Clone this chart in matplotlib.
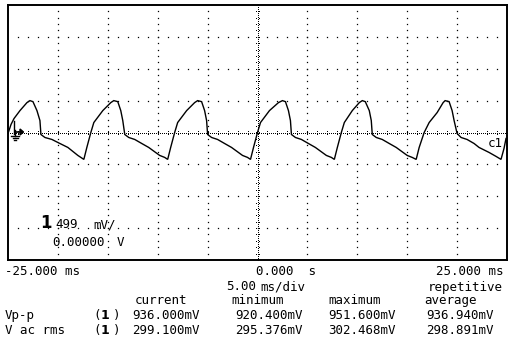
import matplotlib
matplotlib.use("Agg")
import matplotlib.pyplot as plt
import numpy as np

# ---- data (time in ms, voltage in mV) ----
trace_t = [
    -25.0, -24.7, -24.4, -23.8, -23.1, -22.8, -22.5, -22.1, -21.8, -21.7, -21.3, -20.6, -19.8, -19.0, -18.0, -17.7, -17.4,
    -17.1, -16.7, -16.4, -15.5, -14.7, -14.4, -14.0, -13.7, -13.5, -13.3, -12.9, -12.3, -11.6, -10.9, -9.8, -9.3, -9.0,
    -8.7, -8.3, -8.0, -7.1, -6.3, -6.0, -5.6, -5.3, -5.1, -5.0, -4.6, -4.0, -3.3, -2.6, -1.5, -1.0, -0.7,
    -0.4, 0.0, 0.3, 1.2, 2.1, 2.5, 2.8, 3.1, 3.3, 3.4, 3.8, 4.4, 5.1, 5.8, 6.9, 7.4, 7.7,
    8.0, 8.4, 8.7, 9.5, 10.2, 10.5, 10.8, 11.2, 11.4, 11.5, 11.9, 12.5, 13.2, 13.9, 15.0, 15.5, 15.9,
    16.2, 16.7, 17.2, 18.0, 18.6, 18.8, 19.2, 19.5, 19.7, 20.0, 20.4, 21.0, 21.7, 22.2, 23.2, 23.9, 24.4, 24.7, 24.9,
]
trace_mv = [
    -16, 125, 218, 343, 468, 499, 483, 343, 187, -31, -78, -109, -172, -234, -359, -390, -421,
    -234, 0, 156, 343, 468, 499, 483, 343, 187, -31, -78, -109, -172, -234, -359, -390, -421,
    -234, 0, 156, 343, 468, 499, 483, 343, 187, -31, -78, -109, -172, -234, -359, -390, -421,
    -234, 0, 156, 343, 468, 499, 483, 343, 187, -31, -78, -109, -172, -234, -359, -390, -421,
    -234, 0, 156, 343, 468, 499, 483, 343, 187, -31, -78, -109, -172, -234, -359, -390, -421,
    -234, 0, 156, 312, 468, 499, 483, 343, 187, -16, -78, -109, -172, -234, -312, -374, -421, -250, -94,
]

volts_per_div_mv = 499
time_per_div_ms = 5.0
x_range = [-25.000, 25.000]

meas_names = ["Vp-p", "V ac rms"]
meas_current = ["936.000mV", "299.100mV"]
meas_minimum = ["920.400mV", "295.376mV"]
meas_maximum = ["951.600mV", "302.468mV"]
meas_average = ["936.940mV", "298.891mV"]

W, H = 512, 340
fig = plt.figure(figsize=(W / 100, H / 100), dpi=100)
fig.patch.set_facecolor("white")

L, R, T, B = 8, 507, 5, 260
ax = fig.add_axes([L / W, 1 - B / H, (R - L) / W, (B - T) / H])
ax.set_xlim(x_range)
ax.set_ylim(-4 * volts_per_div_mv, 4 * volts_per_div_mv)
ax.set_xticks([])
ax.set_yticks([])
for s in ax.spines.values():
    s.set_linewidth(1.4)
    s.set_color("black")

dot = dict(linestyle="none", marker="s", markersize=0.9, color="black", mew=0)
small = dict(linestyle="none", marker="s", markersize=0.7, color="black", mew=0)
# graticule rows / columns
minor_x = np.arange(-24, 25, 1.0)
minor_y = np.arange(-3.8, 3.81, 0.2) * volts_per_div_mv
for k in [-3, -2, -1, 1, 2, 3]:
    ax.plot(minor_x, np.full_like(minor_x, k * volts_per_div_mv), **dot)
for k in [-4, -3, -2, -1, 1, 2, 3, 4]:
    xv = k * time_per_div_ms
    ax.plot(np.full_like(minor_y, xv), minor_y, **dot)
# centre axes: dense dots + short ticks
dense_x = np.arange(-25, 25.01, 0.2)
ax.plot(dense_x, np.zeros_like(dense_x), **small)
dense_y = np.arange(-4, 4.01, 1 / 16) * volts_per_div_mv
ax.plot(np.zeros_like(dense_y), dense_y, **small)
tick_dy = 1.5 / 32 * volts_per_div_mv
ax.plot(minor_x, np.full_like(minor_x, tick_dy), **small)
ax.plot(minor_x, np.full_like(minor_x, -tick_dy), **small)
tick_dx = 0.15
ax.plot(np.full_like(minor_y, tick_dx), minor_y, **small)
ax.plot(np.full_like(minor_y, -tick_dx), minor_y, **small)

# trace
ax.plot(trace_t, trace_mv, color="black", lw=1.0, solid_joinstyle="miter")

# ground / level marker (drawn in pixel coordinates)
def px(x, y):
    return x / W, 1 - y / H

def fline(xs, ys, lw=1.0):
    fx = [x / W for x in xs]
    fy = [1 - y / H for y in ys]
    fig.add_artist(plt.Line2D(fx, fy, color="black", lw=lw))

fline([13.5, 13.5], [121, 134])
fline([15, 15], [130, 136])
fline([15, 20], [132, 132], lw=1.2)
fig.add_artist(plt.Polygon([px(20, 129), px(20, 135), px(23.5, 132)], closed=True, color="black"))
fline([11, 19], [136, 136])
fline([12.5, 17.5], [138, 138])
fline([14, 16], [140, 140])

mono = dict(family="DejaVu Sans Mono", fontsize=9, color="black")

def txt(x, y, s, ha="left", **kw):
    d = dict(mono)
    d.update(kw)
    fig.text(x / W, 1 - y / H, s, ha=ha, va="baseline", **d)

# inside labels
txt(46, 228, "1", ha="center", fontsize=12, fontweight="bold", family="DejaVu Sans")
txt(55, 228, "499")
txt(93, 228, "mV/")
txt(52, 246.5, "0.00000")
txt(117, 246.5, "V")
txt(488, 147, "c1")

# time axis labels
txt(5, 275, "-25.000 ms")
txt(256, 275, "0.000  s")
txt(503, 275, "25.000 ms", ha="right")
txt(256, 290.5, "5.00", ha="right")
txt(260, 290.5, "ms/div")
txt(503, 290.5, "repetitive", ha="right")

# measurement table
txt(135, 304, "current")
txt(231, 304, "minimum")
txt(328, 304, "maximum")
txt(424, 304, "average")
for i, yb in enumerate([319, 334]):
    txt(5, yb, meas_names[i])
    txt(93, yb, "(")
    txt(105, yb, "1", ha="center", fontweight="bold", family="DejaVu Sans")
    txt(113, yb, ")")
    txt(200, yb, meas_current[i], ha="right")
    txt(303, yb, meas_minimum[i], ha="right")
    txt(396, yb, meas_maximum[i], ha="right")
    txt(494, yb, meas_average[i], ha="right")

fig.savefig("out.png", dpi=100, facecolor="white")
